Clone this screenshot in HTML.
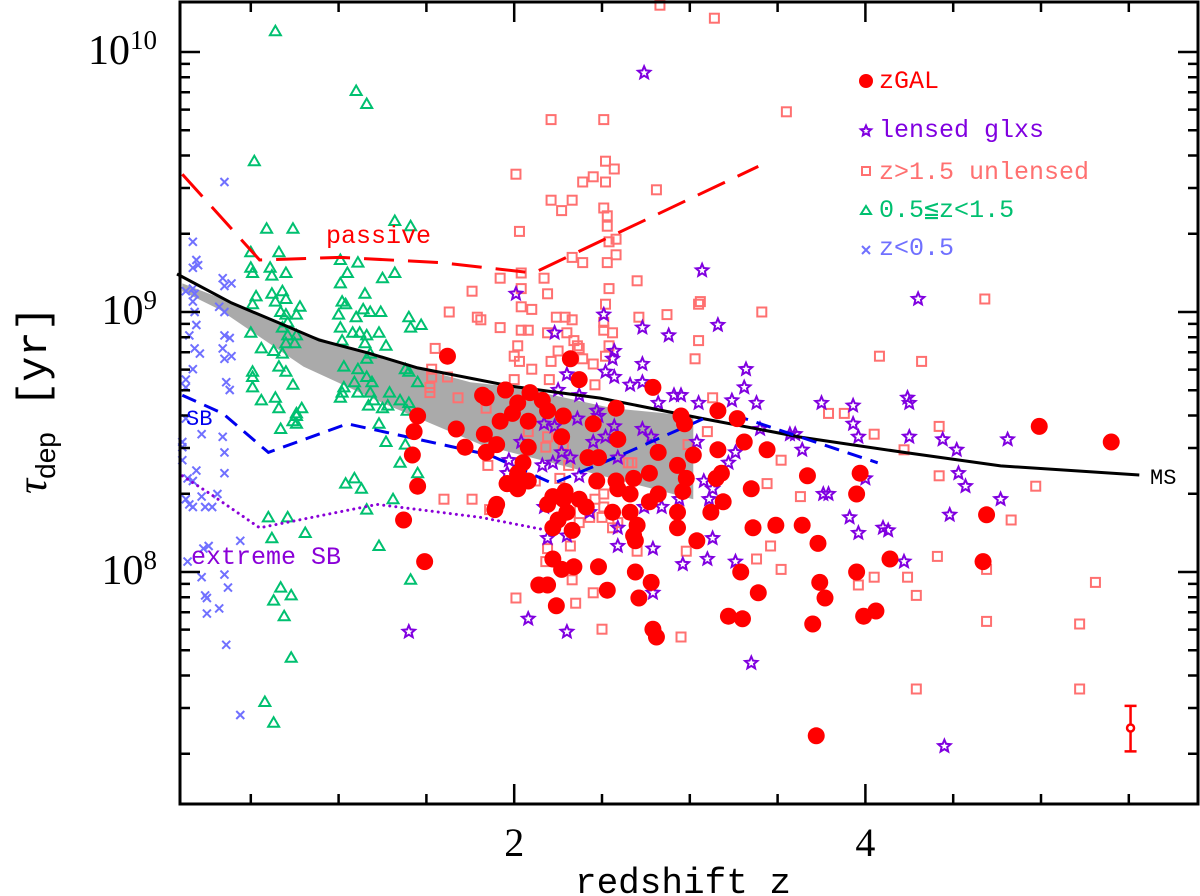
<!DOCTYPE html>
<html><head><meta charset="utf-8"><style>
html,body{margin:0;padding:0;background:#fff;}
svg{display:block;}
</style></head><body>
<svg id="chart" width="1200" height="896" viewBox="0 0 1200 896" xmlns="http://www.w3.org/2000/svg">
<rect x="0" y="0" width="1200" height="896" fill="#fff"/>
<g id="layer"></g>
</svg>
<script>
// ---- data (redshift z, log10 tau_dep [yr]) ----
const zgalZ=[2.32,2.37,1.95,1.84,2.09,2.02,2.16,2.19,1.99,1.92,2.08,2.28,2.45,2.58,2.79,1.83,1.90,2.27,2.08,2.59,1.84,2.05,2.42,2.48,2.82,3.02,3.16,3.16,3.27,3.31,2.95,2.97,2.02,2.08,1.96,2.02,2.47,2.58,2.59,2.68,2.77,2.93,2.98,2.96,3.18,3.15,3.35,1.90,2.22,2.29,2.19,2.28,2.37,2.41,2.66,2.77,2.82,2.56,2.66,2.93,3.12,3.19,2.22,2.30,2.25,2.33,2.70,2.68,2.69,2.93,3.04,3.36,2.22,2.27,2.34,2.48,2.69,2.78,3.29,2.14,2.19,2.53,2.71,3.39,1.62,1.82,1.95,1.45,1.43,1.67,1.72,1.42,1.45,1.96,1.89,1.37,1.49,3.44,3.67,3.97,3.95,3.49,3.64,3.73,4.14,4.67,4.69,4.99,5.40,3.74,3.77,3.95,3.70,3.99,4.06,2.79,2.81,3.30,3.22,3.72,2.24];
const zgalT=[8.82,8.74,8.70,8.67,8.69,8.65,8.66,8.62,8.61,8.58,8.58,8.60,8.57,8.63,8.71,8.53,8.49,8.52,8.48,8.51,8.46,8.42,8.44,8.44,8.46,8.45,8.47,8.62,8.59,8.50,8.60,8.57,8.38,8.35,8.34,8.32,8.35,8.35,8.32,8.36,8.38,8.41,8.36,8.31,8.38,8.36,8.32,8.26,8.29,8.31,8.26,8.28,8.28,8.25,8.30,8.27,8.30,8.23,8.23,8.23,8.23,8.27,8.17,8.23,8.20,8.16,8.18,8.14,8.12,8.17,8.12,8.17,8.05,8.01,8.02,8.02,8.00,7.96,8.00,7.95,7.95,7.93,7.90,7.92,8.83,8.68,8.70,8.60,8.54,8.55,8.48,8.45,8.33,8.34,8.24,8.20,8.04,8.47,8.37,8.38,8.30,8.18,8.18,8.11,8.05,8.04,8.22,8.56,8.50,7.96,7.90,8.00,7.80,7.83,7.85,7.78,7.75,7.82,7.83,7.37,7.87];
const lensZ=[2.74,2.01,3.07,2.51,4.30,2.73,2.23,3.16,2.88,2.57,2.56,2.73,2.52,2.57,2.30,2.66,2.73,3.32,3.31,2.91,2.95,3.05,3.24,3.38,2.25,2.37,2.82,2.47,2.48,2.36,2.17,2.23,2.57,2.73,2.78,2.45,2.52,2.04,3.04,2.27,2.32,3.26,3.22,1.97,2.16,2.22,2.59,2.37,1.96,3.08,3.13,3.11,2.84,2.74,2.94,2.43,2.17,2.19,2.30,2.59,2.59,2.79,3.13,3.10,2.96,3.26,2.79,3.40,3.57,3.60,3.64,3.75,3.93,3.93,3.96,4.00,3.76,3.79,3.91,3.96,4.10,4.13,4.22,4.24,4.25,4.25,4.44,4.52,4.53,4.57,4.77,4.48,4.81,3.35,1.40,2.08,2.30,4.45];
const lensT=[9.92,9.07,9.16,8.99,9.05,8.94,8.92,8.95,8.91,8.85,8.82,8.80,8.77,8.75,8.76,8.72,8.73,8.78,8.71,8.68,8.68,8.65,8.66,8.65,8.70,8.68,8.65,8.62,8.60,8.59,8.57,8.56,8.56,8.55,8.52,8.50,8.52,8.50,8.50,8.46,8.44,8.46,8.42,8.43,8.41,8.42,8.44,8.37,8.38,8.35,8.32,8.28,8.25,8.25,8.28,8.23,8.25,8.13,8.14,8.17,8.10,8.09,8.13,8.05,8.03,8.04,7.92,8.55,8.53,8.53,8.47,8.65,8.64,8.57,8.52,8.36,8.30,8.30,8.21,8.15,8.17,8.16,8.04,8.67,8.65,8.52,8.51,8.47,8.38,8.33,8.28,8.22,8.51,7.65,7.77,7.82,7.77,7.33];
const unlZ=[2.83,3.14,2.21,2.51,3.55,2.01,2.52,2.57,2.39,2.45,2.52,2.81,2.21,2.27,2.33,2.51,2.53,2.53,2.03,2.58,2.54,2.33,2.39,2.58,2.53,2.04,1.92,2.17,2.70,1.76,2.04,2.19,2.54,2.52,3.06,2.04,2.10,3.41,1.63,1.79,2.24,2.29,2.71,2.87,1.81,1.92,2.00,1.55,1.53,1.53,1.52,1.52,1.62,1.68,1.84,2.00,2.04,2.08,2.19,2.30,2.34,2.33,2.51,2.51,2.56,3.05,3.05,3.03,2.02,2.03,2.10,2.25,2.36,2.37,2.39,2.21,2.20,2.45,2.52,2.46,2.54,2.19,2.28,2.08,2.18,2.65,2.67,2.31,1.85,2.09,2.26,2.12,2.46,2.51,2.51,2.50,2.43,2.37,2.56,2.59,2.32,2.32,2.19,2.18,2.70,2.99,3.10,3.13,1.86,2.01,2.98,3.38,4.08,4.32,4.68,3.79,3.88,4.05,4.42,4.22,3.52,3.44,3.63,4.42,4.97,4.83,3.46,3.52,4.41,4.69,4.05,4.24,3.96,4.29,5.31,4.69,5.22,4.29,5.22,2.95,2.50,2.35,2.45,2.33,1.76,1.60];
const unlT=[10.18,10.13,9.74,9.74,9.77,9.53,9.58,9.55,9.50,9.52,9.50,9.47,9.43,9.39,9.43,9.40,9.37,9.33,9.31,9.28,9.27,9.21,9.19,9.22,9.19,9.15,9.13,9.13,9.12,9.08,9.09,9.07,9.09,9.03,9.04,9.02,9.01,9.00,9.00,8.98,8.98,8.98,8.98,8.99,8.97,8.94,8.83,8.86,8.78,8.75,8.71,8.69,8.75,8.67,8.63,8.74,8.93,8.93,8.92,8.92,8.89,8.97,8.96,8.93,8.92,9.03,8.89,8.82,8.87,8.81,8.78,8.85,8.87,8.86,8.82,8.81,8.74,8.80,8.83,8.72,8.87,8.52,8.49,8.54,8.48,8.42,8.42,8.41,8.41,8.35,8.36,8.35,8.28,8.30,8.25,8.21,8.21,8.19,8.17,8.19,8.10,8.23,8.09,8.04,8.08,8.49,8.54,8.67,8.24,7.90,8.08,8.05,8.83,8.81,9.05,8.61,8.61,8.53,8.56,8.47,8.43,8.34,8.29,8.37,8.33,8.20,8.10,8.01,8.06,8.01,7.98,7.98,7.95,7.91,7.96,7.81,7.80,7.55,7.55,7.75,7.78,7.88,7.92,7.97,8.28,8.28];
const midZ=[0.64,1.10,1.16,0.52,0.59,0.74,1.32,1.41,0.66,0.50,1.01,1.11,0.50,0.51,0.61,0.62,0.70,1.05,1.25,1.32,1.01,1.15,0.53,0.62,0.68,0.70,0.51,0.64,1.02,1.04,0.78,0.67,1.14,1.18,1.24,1.40,1.47,1.41,0.70,0.71,0.76,1.00,1.10,1.01,1.08,1.12,1.16,1.23,1.27,0.68,0.71,0.76,0.70,0.75,0.50,0.56,0.63,0.68,1.02,1.15,1.18,1.16,1.03,0.66,0.70,0.51,0.51,0.51,0.74,1.11,1.16,1.19,1.09,1.38,1.40,1.45,1.03,1.02,1.18,1.20,1.29,1.35,1.40,0.56,0.64,0.66,0.79,0.76,1.01,1.11,1.17,1.25,1.28,1.39,0.76,0.74,0.76,0.67,1.23,1.27,1.38,1.35,1.45,1.04,1.09,1.13,1.31,1.16,0.60,0.71,0.62,0.81,1.23,1.41,0.67,0.73,0.63,0.69,0.73,0.58,0.63];
const midT=[10.08,9.85,9.80,9.58,9.32,9.32,9.35,9.33,9.23,9.23,9.20,9.19,9.17,9.15,9.17,9.14,9.15,9.15,9.13,9.15,9.11,9.07,9.06,9.07,9.08,9.05,9.03,9.04,9.04,9.03,9.02,9.00,9.01,9.00,9.00,8.98,8.95,8.94,8.99,8.96,8.99,8.99,8.98,8.94,8.92,8.92,8.91,8.92,8.87,8.94,8.91,8.91,8.88,8.88,8.92,8.86,8.85,8.84,8.89,8.88,8.84,8.82,8.79,8.79,8.77,8.77,8.75,8.71,8.72,8.78,8.75,8.73,8.73,8.78,8.77,8.73,8.71,8.69,8.69,8.66,8.69,8.66,8.65,8.66,8.67,8.63,8.63,8.61,8.67,8.69,8.64,8.63,8.64,8.62,8.60,8.58,8.57,8.55,8.57,8.50,8.49,8.42,8.38,8.34,8.36,8.32,8.28,8.24,8.21,8.21,8.13,8.15,8.10,7.97,7.94,7.91,7.89,7.83,7.67,7.50,7.42];
const lowZ=[0.35,0.17,0.19,0.20,0.17,0.34,0.39,0.35,0.17,0.13,0.18,0.17,0.18,0.32,0.35,0.19,0.15,0.35,0.38,0.18,0.21,0.34,0.39,0.35,0.17,0.36,0.38,0.13,0.13,0.13,0.22,0.34,0.35,0.11,0.11,0.11,0.19,0.35,0.14,0.17,0.31,0.22,0.13,0.15,0.17,0.24,0.28,0.44,0.23,0.26,0.14,0.22,0.35,0.37,0.24,0.25,0.32,0.25,0.36,0.44];
const lowT=[9.50,9.27,9.20,9.18,9.17,9.13,9.11,9.10,9.09,9.08,9.07,9.04,9.00,9.02,9.00,8.95,8.91,8.91,8.90,8.86,8.84,8.86,8.83,8.82,8.78,8.73,8.70,8.74,8.71,8.59,8.53,8.52,8.46,8.50,8.48,8.43,8.39,8.38,8.36,8.35,8.30,8.29,8.28,8.26,8.25,8.25,8.25,8.12,8.09,8.10,8.04,7.98,7.99,7.94,7.91,7.90,7.86,7.84,7.72,7.45];
// curves
const msZ=[0.08,0.39,0.66,0.89,1.17,1.45,1.98,2.49,3.06,3.63,4.20,4.77,5.56];
const msT=[9.146,9.035,8.958,8.892,8.842,8.785,8.715,8.669,8.592,8.519,8.462,8.408,8.373];
const bandUpZ=[0.11,0.38,0.80,1.25,1.75,2.02,2.29,2.56,3.02];
const bandUpT=[9.11,9.04,8.92,8.82,8.73,8.71,8.67,8.63,8.60];
const bandLoZ=[0.11,0.32,0.80,1.25,1.81,2.04,3.02];
const bandLoT=[9.08,9.01,8.79,8.65,8.49,8.45,8.28];
const passZ=[0.11,0.55,1.01,1.58,2.11,3.39];
const passT=[9.53,9.20,9.21,9.19,9.15,9.56];
const sbZ=[0.11,0.34,0.60,1.05,1.86,2.22,2.61,3.18,4.07];
const sbT=[8.68,8.61,8.46,8.57,8.45,8.34,8.45,8.62,8.42];
const xsbZ=[0.11,0.27,0.55,1.22,1.81,2.19];
const xsbT=[8.37,8.30,8.17,8.26,8.21,8.16];
const errZ=[5.51], errT=[7.40], errLo=[7.31], errHi=[7.485];
const xMajorTicks=[2,4];
const xTickLabels=["2","4"];
const yMajorTicks=[8,9,10];
const yTickExp=["8","9","10"];

// ---- axes ----
const L=180,R=1198,T=2,B=804;
const X=z=>163+175.6*z;
const Y=lg=>312-260*(lg-9);
const NS="http://www.w3.org/2000/svg";
const layer=document.getElementById('layer');
function mk(tag,attrs,parent){const e=document.createElementNS(NS,tag);for(const k in attrs)e.setAttribute(k,attrs[k]);(parent||layer).appendChild(e);return e;}
function pathOf(zs,ts){return zs.map((z,i)=>(i?'L':'M')+X(z).toFixed(1)+','+Y(ts[i]).toFixed(1)).join(' ');}

const band=mk('path',{d:pathOf(bandUpZ,bandUpT)+' '+bandLoZ.slice().reverse().map((z,i)=>'L'+X(z).toFixed(1)+','+Y(bandLoT[bandLoT.length-1-i]).toFixed(1)).join(' ')+' Z',fill:'#aaaaaa',stroke:'none'});



const gLow=mk('g',{});


lowZ.forEach((z,i)=>{const x=X(z),y=Y(lowT[i]),s=4;
 const p=mk('path',{d:`M${x-s},${y-s}L${x+s},${y+s}M${x-s},${y+s}L${x+s},${y-s}`,stroke:'#7070ff','stroke-width':2,fill:'none'},gLow);
 
 });
const gMid=mk('g',{});


midZ.forEach((z,i)=>{const x=X(z),y=Y(midT[i]);
 const p=mk('path',{d:`M${x-5.5},${y+4}L${x+5.5},${y+4}L${x},${y-5.5}Z`,stroke:'#00c070','stroke-width':2,fill:'none'},gMid);
 
 });
const gUnl=mk('g',{});


unlZ.forEach((z,i)=>{const x=X(z),y=Y(unlT[i]);
 const p=mk('rect',{x:x-4.5,y:y-4.5,width:9,height:9,stroke:'#ff7070','stroke-width':2,fill:'none'},gUnl);
 
 });
function starD(x,y,r){let d='';for(let k=0;k<10;k++){const a=-Math.PI/2+k*Math.PI/5,rr=k%2?r*0.45:r;d+=(k?'L':'M')+(x+rr*Math.cos(a)).toFixed(1)+','+(y+rr*Math.sin(a)).toFixed(1);}return d+'Z';}
const gLens=mk('g',{});


lensZ.forEach((z,i)=>{
 const p=mk('path',{d:starD(X(z),Y(lensT[i]),6.5),stroke:'#8000e0','stroke-width':2,fill:'none'},gLens);
 
 });

const ms=mk('path',{d:pathOf(msZ,msT),stroke:'#000','stroke-width':3,fill:'none'});


const ps=mk('path',{d:pathOf(passZ,passT),stroke:'#ff0000','stroke-width':3,fill:'none','stroke-dasharray':'30 14'});


const sb=mk('path',{d:pathOf(sbZ,sbT),stroke:'#0000ee','stroke-width':3,fill:'none','stroke-dasharray':'15 9'});


const xsb=mk('path',{d:pathOf(xsbZ,xsbT),stroke:'#8a00d8','stroke-width':3,fill:'none','stroke-dasharray':'0.1 6','stroke-linecap':'round'});



const gZ=mk('g',{});


zgalZ.forEach((z,i)=>{
 const c=mk('circle',{cx:X(z),cy:Y(zgalT[i]),r:8.5,fill:'#ff0000'},gZ);
 
 });

errZ.forEach((z,i)=>{const x=X(z);
 const g=mk('g',{stroke:'#ff0000','stroke-width':2.5,fill:'none'});
 
 
 mk('path',{d:`M${x},${Y(errHi[i])}L${x},${Y(errLo[i])}M${x-6},${Y(errHi[i])}L${x+6},${Y(errHi[i])}M${x-6},${Y(errLo[i])}L${x+6},${Y(errLo[i])}`},g);
 mk('circle',{cx:x,cy:Y(errT[i]),r:3.5,fill:'#fff'},g);});

const frame=mk('rect',{x:L,y:T,width:R-L,height:B-T,fill:'none',stroke:'#000','stroke-width':3});


let td='';
for(let z=0.5;z<5.9;z+=0.5){const x=X(z);const len=(Math.abs(z%2)<1e-6)?20:10;td+=`M${x},${B}L${x},${B-len}M${x},${T}L${x},${T+len}`;}
for(let d=7;d<=10;d++){for(let m=1;m<=9;m++){const lg=d+Math.log10(m);if(lg<7.09||lg>10.2)continue;const y=Y(lg);const len=m===1?20:10;td+=`M${L},${y}L${L+len},${y}M${R},${y}L${R-len},${y}`;}}
const ticks=mk('path',{d:td,stroke:'#000','stroke-width':2.5,fill:'none'});



const F='"Liberation Mono","DejaVu Sans Mono",monospace';
const SF='"Liberation Serif",serif';
xMajorTicks.forEach((z,i)=>{const t=mk('text',{x:X(z),y:856,'text-anchor':'middle','font-family':SF,'font-size':40,fill:'#000'});t.textContent=xTickLabels[i];
 
 });
yMajorTicks.forEach((lg,i)=>{const t=mk('text',{x:157,y:Y(lg)+12,'text-anchor':'end','font-family':SF,'font-size':42,fill:'#000'});
 const a=mk('tspan',{},t);a.textContent='10';
 const b=mk('tspan',{dy:-15,'font-size':27},t);b.textContent=yTickExp[i];
 
 });

function label(txt,x,y,size,fill,name,anchor,fam){const t=mk('text',{x:x,y:y,'font-family':fam||F,'font-size':size,fill:fill,'text-anchor':anchor||'start'});t.textContent=txt;
 
 return t;}
label('redshift z',683,893,36,'#000','x-axis-title','middle');
const yt=mk('text',{x:0,y:0,'font-family':SF,'font-size':42,fill:'#000',transform:'translate(46,400) rotate(-90)','text-anchor':'middle'});


const y1=mk('tspan',{'font-style':'italic'},yt);y1.textContent='τ';
const y2=mk('tspan',{'font-size':28,dy:9,'font-family':'"Liberation Sans",sans-serif'},yt);y2.textContent='dep';
const y3=mk('tspan',{dy:-9,'font-family':F},yt);y3.textContent=' [yr]';

label('passive',326,243,25,'#ff0000','passive-label');
label('SB',186,425,22,'#0000ee','sb-label');
label('extreme SB',191,564,25,'#8a00d8','extreme-sb-label');
label('MS',1150,484,22,'#000','ms-label');

const lg=mk('g',{});


mk('circle',{cx:866,cy:81,r:7,fill:'#ff0000'},lg);
mk('path',{d:starD(866,131,5.5),stroke:'#8000e0','stroke-width':2,fill:'none'},lg);
mk('rect',{x:862,y:167,width:8,height:8,stroke:'#ff7070','stroke-width':2,fill:'none'},lg);
mk('path',{d:'M861,214L871,214L866,206Z',stroke:'#00c070','stroke-width':2,fill:'none'},lg);
mk('path',{d:'M862,246L870,254M862,254L870,246',stroke:'#7070ff','stroke-width':2},lg);
label('zGAL',879,88,25,'#ff0000','legend-entry-zgal');
label('lensed glxs',879,137,25,'#8000e0','legend-entry-lensed');
label('z>1.5 unlensed',879,179,25,'#ff7070','legend-entry-unlensed');
label('0.5≦z<1.5',879,217,25,'#00c070','legend-entry-mid-z');
label('z<0.5',879,255,25,'#7070ff','legend-entry-low-z');
</script>
</body></html>
